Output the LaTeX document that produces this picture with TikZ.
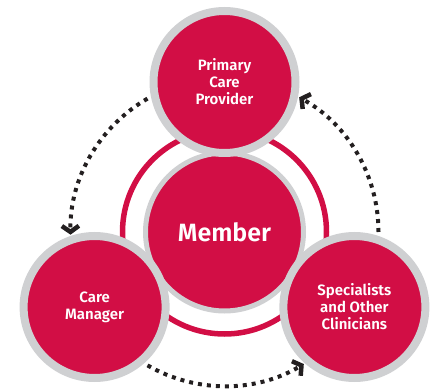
\documentclass[tikz,border=0pt]{standalone}
\usepackage{fontspec}
\setmainfont{Fira Sans}[BoldFont={* SemiBold}]
\usetikzlibrary{arrows.meta, calc}
\definecolor{crimson}{RGB}{210,14,69}
\definecolor{ringgray}{RGB}{207,208,210}
\definecolor{dotblack}{RGB}{35,31,32}
\tikzset{
  hub/.style={circle, fill=crimson, draw=ringgray, line width=5pt, minimum size=158pt,
    text=white, font=\bfseries\fontsize{25}{28}\selectfont},
  party/.style={circle, fill=crimson, draw=ringgray, line width=8pt, minimum size=142pt,
    text=white, align=center, font=\bfseries\fontsize{15}{17}\selectfont},
  flow/.style={dotblack, line width=4pt, dash pattern=on 4pt off 5pt,
    -{Straight Barb[length=6pt,width=17pt,line width=4.5pt]}}
}
\begin{document}
\begin{tikzpicture}[x=1pt,y=1pt]
  \useasboundingbox (0,0) rectangle (439,391);
  \coordinate (c) at (224.5,159);
  % ring round the member
  \draw[crimson, line width=5.5pt] (c) circle[radius=102pt];
  \node[hub] (member) at (c) {Member};
  \node[party] (pcp) at ($(c)+(90:150)$) {Primary\\Care\\Provider};
  \node[party] (cm) at ($(c)+(210:150)$) {Care\\Manager};
  \node[party] (spec) at ($(c)+(330:150)$) {Specialists\\and Other\\Clinicians};

  % dotted flows between the parties
  \draw[flow] (member.center) ++(120:154pt) arc[start angle=120, end angle=181, radius=154pt];
  \draw[flow] (member.center) ++(240:154pt) arc[start angle=240, end angle=301, radius=154pt];
  \draw[flow] (member.center) ++(0:154pt) arc[start angle=0, end angle=61, radius=154pt];
\end{tikzpicture}
\end{document}
